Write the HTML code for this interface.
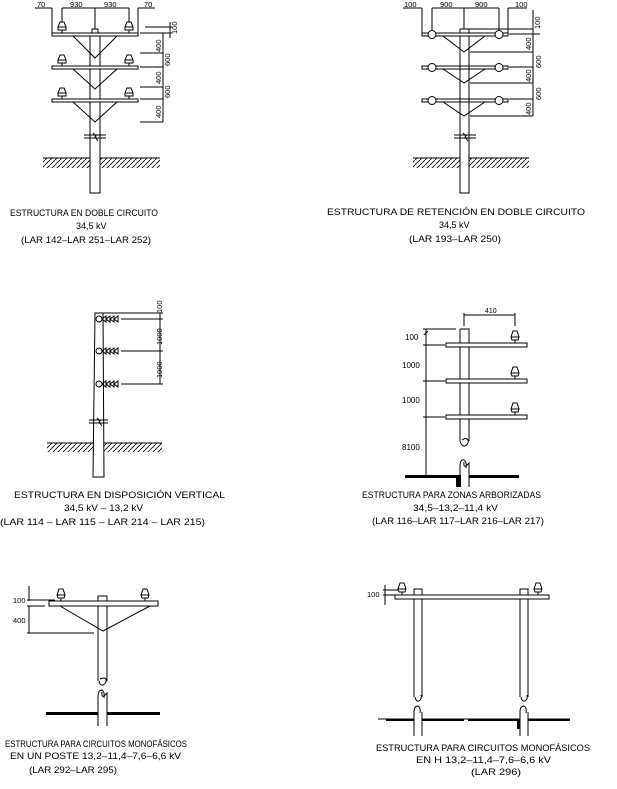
<!DOCTYPE html>
<html><head><meta charset="utf-8"><style>
html,body{margin:0;padding:0;background:#fff;}
svg{display:block;}
text{font-family:"Liberation Sans",sans-serif;fill:#000;}
.t{font-size:9px;fill:#111;}
.d{font-size:7.5px;}
.d4{font-size:8px;}
</style></head><body>
<svg width="617" height="789" viewBox="0 0 617 789" xmlns="http://www.w3.org/2000/svg">
<defs>
<pattern id="h" width="5" height="5" patternUnits="userSpaceOnUse">
<path d="M0,5 L5,0" stroke="#000" stroke-width="0.8"/>
</pattern>
<g id="ins" fill="#fff" stroke="#000" stroke-width="1">
<line x1="0" y1="0" x2="0" y2="-3"/>
<path d="M-4,-3 L4,-3 L4,-6 L2,-11 L-2,-11 L-4,-6 Z"/>
<line x1="-4" y1="-6" x2="4" y2="-6"/>
</g>
<g id="ins2" fill="#fff" stroke="#000" stroke-width="1">
<line x1="0" y1="0" x2="0" y2="-3"/>
<path d="M-3,-3 L3,-3 L4,-6 L2,-12 L-2,-12 L-4,-6 Z"/>
<line x1="-4" y1="-6" x2="4" y2="-6"/>
</g>
</defs>
<g stroke="#000" stroke-width="1" fill="none">

<!-- ===== Diagram 1 ===== -->
<rect x="90" y="36" width="10" height="157" fill="#fff"/>
<rect x="92" y="29" width="6" height="4"/>
<rect x="52" y="33" width="86" height="3" fill="#fff"/>
<rect x="52" y="66" width="86" height="3" fill="#fff"/>
<rect x="52" y="99" width="86" height="3" fill="#fff"/>
<path d="M73,36 L95,58 L117,36 M73,69 L95,89 L117,69 M73,102 L95,122 L117,102"/>
<path d="M84,135 H106 M84,138 H106 M93,133 L96,136 L95,137 L98,141"/>
<rect x="43" y="158" width="47" height="10" fill="url(#h)" stroke="none"/>
<rect x="100" y="158" width="60" height="10" fill="url(#h)" stroke="none"/>
<path d="M43,158 H90 M100,158 H160"/>
<path d="M35,8 H52 M62,8 H129 M138,8 H155 M52,8 V33 M62,8 V24 M95,8 V29 M129,8 V24 M138,8 V33"/>
<path d="M145,27 H172 M140,33 H172 M170,22 V38 M140,53 H163 M140,67 H163 M140,87 H163 M140,99 H163 M140,122 H163 M163,33 V122"/>

<!-- ===== Diagram 2 ===== -->
<rect x="460" y="36" width="9" height="157" fill="#fff"/>
<rect x="460" y="29" width="9" height="4"/>
<rect x="422" y="33" width="86" height="3" fill="#fff"/>
<rect x="422" y="66" width="86" height="3" fill="#fff"/>
<rect x="422" y="99" width="86" height="3" fill="#fff"/>
<path d="M460,36 V193 M469,36 V193"/>
<path d="M443,36 L464,52 L485,36 M443,69 L464,83 L485,69 M443,102 L464,116 L485,102"/>
<circle cx="432" cy="34.5" r="4" fill="#fff"/><circle cx="499" cy="34.5" r="4" fill="#fff"/>
<circle cx="432" cy="67.5" r="4" fill="#fff"/><circle cx="499" cy="67.5" r="4" fill="#fff"/>
<circle cx="432" cy="100.5" r="4" fill="#fff"/><circle cx="499" cy="100.5" r="4" fill="#fff"/>
<path d="M454,135 H476 M454,138 H476 M463,133 L466,136 L465,137 L468,141"/>
<rect x="413" y="158" width="47" height="10" fill="url(#h)" stroke="none"/>
<rect x="469" y="158" width="60" height="10" fill="url(#h)" stroke="none"/>
<path d="M413,158 H460 M469,158 H529"/>
<path d="M403,8 H422 M432,8 H499 M508,8 H527 M422,8 V33 M432,8 V30 M464,8 V29 M499,8 V30 M508,8 V33"/>
<path d="M469,29 H533 M509,34 H540 M470,52 H533 M509,67 H533 M470,83 H533 M509,99 H533 M470,116 H533 M533,10 V116"/>

<!-- ===== Diagram 3 ===== -->
<path d="M95,313 L103,313 L104,477 L93,477 Z" fill="#fff"/>
<circle cx="99" cy="319" r="3" fill="#fff"/><circle cx="99" cy="351" r="3" fill="#fff"/><circle cx="99" cy="384" r="3" fill="#fff"/>
<path d="M102,319 L106,316 V322 Z M106,319 L110,316 V322 Z M110,319 L114,316 V322 Z M114,319 L118,316 V322 Z"/>
<path d="M102,351 L106,348 V354 Z M106,351 L110,348 V354 Z M110,351 L114,348 V354 Z M114,351 L118,348 V354 Z"/>
<path d="M102,384 L106,381 V387 Z M106,384 L110,381 V387 Z M110,384 L114,381 V387 Z M114,384 L118,381 V387 Z"/>
<path d="M103,313 H163 M121,319 H163 M121,351 H163 M121,384 H163 M160,313 V384"/>
<path d="M89,420 H108 M89,423 H108 M97,418 L100,421 L99,422 L102,426"/>
<rect x="47" y="443" width="47" height="9" fill="url(#h)" stroke="none"/>
<rect x="104" y="443" width="58" height="9" fill="url(#h)" stroke="none"/>
<path d="M47,443 H94 M104,443 H162"/>

<!-- ===== Diagram 4 ===== -->
<path d="M460,329 H469 V441 M460,329 V441"/>
<path d="M460,441 Q462,447 465,446 Q469,444 468,440 Q466,437 462,440"/>
<path d="M460,487 V466 Q460,459 464,460 Q467,462 466,468 M464,462 Q463,470 469,463 V487"/>
<rect x="446" y="343" width="81" height="4" fill="#fff"/>
<rect x="446" y="379" width="81" height="4" fill="#fff"/>
<rect x="446" y="415" width="81" height="4" fill="#fff"/>
<path d="M464,313 V326 M515,313 V326 M464,315 H515"/>
<path d="M426,329 V477 M423,329 H456 M423,345 H445 M423,381 H445 M423,417 H445 M424,335 L428,331"/>
<rect x="405" y="475" width="55" height="3" fill="#000" stroke="none"/>
<rect x="469" y="475" width="50" height="3" fill="#000" stroke="none"/>
<rect x="456" y="475" width="5" height="12" fill="#000" stroke="none"/>

<!-- ===== Diagram 5 ===== -->
<rect x="98" y="596" width="9" height="5" fill="#fff"/>
<path d="M98,606 V681 M107,606 V681"/>
<path d="M99,681 Q100,686 103,685 Q107,683 106,679 Q104,677 100,679"/>
<path d="M98,726 V697 Q98,690 102,690 Q105,692 104,698 M102,692 Q101,700 107,693 V726"/>
<rect x="49" y="601" width="109" height="5" fill="#fff"/>
<path d="M60,606 L103,631 L150,606"/>
<path d="M29,586 V601 M29,606 V633 M27,600 H55 M27,606 H45 M27,633 H94"/>
<rect x="46" y="712" width="52" height="3" fill="#000" stroke="none"/>
<rect x="107" y="712" width="53" height="3" fill="#000" stroke="none"/>

<!-- ===== Diagram 6 ===== -->
<rect x="414" y="589" width="8" height="6" fill="#fff"/>
<rect x="520" y="589" width="8" height="6" fill="#fff"/>
<rect x="395" y="595" width="154" height="4" fill="#fff"/>
<path d="M414,599 V697 M422,599 V697 M520,599 V697 M528,599 V697"/>
<path d="M415,697 Q416,702 419,701 Q422,699 421,695 M521,697 Q522,702 525,701 Q528,699 527,695"/>
<path d="M414,736 V712 Q414,706 418,706 Q421,708 420,713 M422,712 V736 M520,736 V712 Q520,706 524,706 Q527,708 526,713 M528,712 V736"/>
<path d="M385,585 V605 M383,590 H400 M383,595 H395"/>
<path d="M378,719 H414 M422,719 H520 M528,719 H570"/>
<rect x="386" y="719" width="28" height="2" fill="#000" stroke="none"/>
<rect x="422" y="719" width="42" height="2" fill="#000" stroke="none"/>
<rect x="468" y="719" width="52" height="2" fill="#000" stroke="none"/>
<rect x="528" y="719" width="42" height="2" fill="#000" stroke="none"/>
<rect x="517" y="719" width="3" height="10" fill="#000" stroke="none"/>
</g>

<use href="#ins" x="62" y="33"/><use href="#ins" x="129" y="33"/>
<use href="#ins" x="62" y="66"/><use href="#ins" x="129" y="66"/>
<use href="#ins" x="62" y="99"/><use href="#ins" x="129" y="99"/>
<use href="#ins2" x="515" y="343"/><use href="#ins2" x="515" y="379"/><use href="#ins2" x="515" y="415"/>
<use href="#ins2" x="61" y="601"/><use href="#ins2" x="145" y="601"/>
<use href="#ins2" x="402" y="595"/><use href="#ins2" x="538" y="595"/>

<g class="d">
<text x="37" y="7">70</text><text x="70" y="7">930</text><text x="104" y="7">930</text><text x="144" y="7">70</text>
<text transform="translate(177,34) rotate(-90)">100</text>
<text transform="translate(161,52) rotate(-90)">400</text>
<text transform="translate(170,66) rotate(-90)">600</text>
<text transform="translate(161,84) rotate(-90)">400</text>
<text transform="translate(170,98) rotate(-90)">600</text>
<text transform="translate(161,118) rotate(-90)">400</text>

<text x="404" y="7">100</text><text x="440" y="7">900</text><text x="475" y="7">900</text><text x="515" y="7">100</text>
<text transform="translate(540,29) rotate(-90)">100</text>
<text transform="translate(531,50) rotate(-90)">400</text>
<text transform="translate(541,68) rotate(-90)">600</text>
<text transform="translate(531,82) rotate(-90)">400</text>
<text transform="translate(541,100) rotate(-90)">600</text>
<text transform="translate(531,115) rotate(-90)">400</text>

<text transform="translate(162,313) rotate(-90)">100</text>
<text transform="translate(162,345) rotate(-90)">1000</text>
<text transform="translate(162,378) rotate(-90)">1000</text>

<text x="485" y="313" style="font-size:7px">410</text>
<text x="13" y="603">100</text>
<text x="13" y="623">400</text>
<text x="367" y="597">100</text>
</g>
<g class="d4">
<text x="405" y="340">100</text>
<text x="402" y="368">1000</text>
<text x="402" y="403">1000</text>
<text x="402" y="450">8100</text>
</g>

<g class="t">
<text x="10" y="216" textLength="148" lengthAdjust="spacingAndGlyphs">ESTRUCTURA EN DOBLE CIRCUITO</text>
<text x="76" y="229">34,5 kV</text>
<text x="21" y="243" textLength="130" lengthAdjust="spacingAndGlyphs">(LAR 142–LAR 251–LAR 252)</text>

<text x="327" y="215" textLength="258" lengthAdjust="spacingAndGlyphs">ESTRUCTURA DE RETENCIÓN EN DOBLE CIRCUITO</text>
<text x="439" y="228">34,5 kV</text>
<text x="409" y="242" textLength="92" lengthAdjust="spacingAndGlyphs">(LAR 193–LAR 250)</text>

<text x="14" y="498" textLength="211" lengthAdjust="spacingAndGlyphs">ESTRUCTURA EN DISPOSICIÓN VERTICAL</text>
<text x="64" y="511" textLength="79" lengthAdjust="spacingAndGlyphs">34,5 kV – 13,2 kV</text>
<text x="0" y="525" textLength="205" lengthAdjust="spacingAndGlyphs">(LAR 114 – LAR 115 – LAR 214 – LAR 215)</text>

<text x="362" y="498" textLength="179" lengthAdjust="spacingAndGlyphs">ESTRUCTURA PARA ZONAS ARBORIZADAS</text>
<text x="413" y="511" textLength="85" lengthAdjust="spacingAndGlyphs">34,5–13,2–11,4 kV</text>
<text x="372" y="524" textLength="172" lengthAdjust="spacingAndGlyphs">(LAR 116–LAR 117–LAR 216–LAR 217)</text>

<text x="5" y="747" textLength="182" lengthAdjust="spacingAndGlyphs">ESTRUCTURA PARA CIRCUITOS MONOFÁSICOS</text>
<text x="10" y="759" textLength="171" lengthAdjust="spacingAndGlyphs">EN UN POSTE 13,2–11,4–7,6–6,6  kV</text>
<text x="29" y="773" textLength="88" lengthAdjust="spacingAndGlyphs">(LAR 292–LAR 295)</text>

<text x="376" y="751" textLength="214" lengthAdjust="spacingAndGlyphs">ESTRUCTURA PARA CIRCUITOS MONOFÁSICOS</text>
<text x="416" y="763" textLength="135" lengthAdjust="spacingAndGlyphs">EN H 13,2–11,4–7,6–6,6 kV</text>
<text x="471" y="775" textLength="50" lengthAdjust="spacingAndGlyphs">(LAR 296)</text>
</g>
</svg>
</body></html>
